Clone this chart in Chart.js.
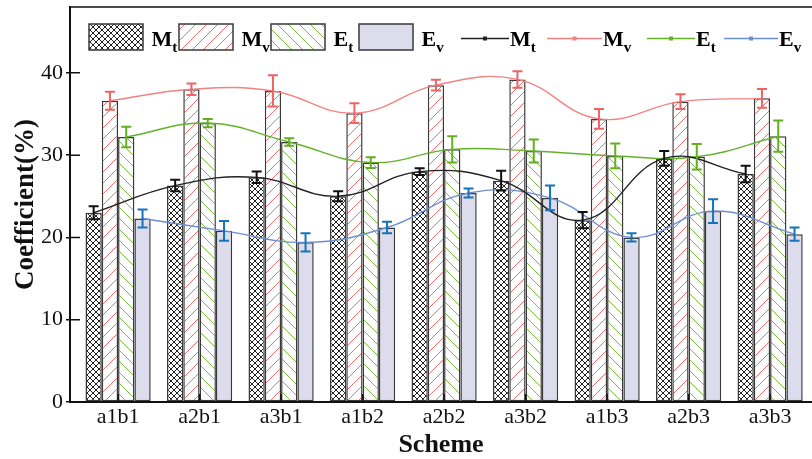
<!DOCTYPE html>
<html>
<head>
<meta charset="utf-8">
<title>Coefficient by scheme</title>
<script src="https://cdn.jsdelivr.net/npm/chart.js@4.4.1/dist/chart.umd.min.js"></script>
<style>
  html, body { margin: 0; padding: 0; background: #fff; overflow: hidden; }
  #chart { display: block; }
</style>
</head>
<body>
<canvas id="chart" width="812" height="459"></canvas>
<script>
// values
const schemes = ['a1b1', 'a2b1', 'a3b1', 'a1b2', 'a2b2', 'a3b2', 'a1b3', 'a2b3', 'a3b3'];
const mtValues = [23.0, 26.3, 27.3, 25.0, 28.0, 26.9, 22.1, 29.6, 27.7];
const mvValues = [36.6, 38.0, 37.8, 35.1, 38.5, 39.2, 34.4, 36.5, 36.9];
const etValues = [32.2, 33.9, 31.6, 29.1, 30.7, 30.5, 29.9, 29.8, 32.3];
const evValues = [22.3, 20.8, 19.4, 21.2, 25.4, 24.8, 20.0, 23.2, 20.4];
const mtErrors = [0.8, 0.7, 0.7, 0.6, 0.4, 1.2, 1.0, 0.9, 1.0];
const mvErrors = [1.1, 0.7, 1.9, 1.2, 0.65, 1.0, 1.2, 0.9, 1.15];
const etErrors = [1.25, 0.5, 0.45, 0.65, 1.6, 1.4, 1.5, 1.55, 1.9];
const evErrors = [1.1, 1.2, 1.1, 0.7, 0.55, 1.5, 0.5, 1.45, 0.8];
const yTicks = [0, 10, 20, 30, 40];

const SERIF = '"Liberation Serif", "Times New Roman", serif';
const CAT_PCT = 0.8;

function makePattern(kind, color) {
  const c = document.createElement('canvas');
  const s = kind === 'cross' ? 6 : 11;
  c.width = s; c.height = s;
  const g = c.getContext('2d');
  g.fillStyle = '#fff';
  g.fillRect(0, 0, s, s);
  g.strokeStyle = color;
  g.lineWidth = 1;
  g.beginPath();
  if (kind === 'cross' || kind === 'fwd') {
    g.moveTo(-1, s + 1); g.lineTo(s + 1, -1);
  }
  if (kind === 'cross' || kind === 'back') {
    g.moveTo(-1, -1); g.lineTo(s + 1, s + 1);
  }
  g.stroke();
  return g.createPattern(c, 'repeat');
}

const series = [
  { base: 'M', sub: 't', values: mtValues, errors: mtErrors,
    fill: makePattern('cross', '#222'), line: '#222', err: '#111' },
  { base: 'M', sub: 'v', values: mvValues, errors: mvErrors,
    fill: makePattern('fwd', 'rgb(240,110,110)'), line: 'rgb(242,130,130)', err: 'rgb(236,100,100)' },
  { base: 'E', sub: 't', values: etValues, errors: etErrors,
    fill: makePattern('back', 'rgb(120,190,60)'), line: 'rgb(100,178,40)', err: 'rgb(100,175,30)' },
  { base: 'E', sub: 'v', values: evValues, errors: evErrors,
    fill: '#dcdcec', line: 'rgb(110,142,212)', err: 'rgb(20,115,185)' }
];

// bar centre offset inside a group, in category units
const barOffset = k => (k - (series.length - 1) / 2) * CAT_PCT / series.length;

const barSets = series.map(s => ({
  type: 'bar',
  label: s.base + s.sub,
  data: s.values.map((v, i) => ({ x: i, y: v })),
  backgroundColor: s.fill,
  borderColor: '#3a3a3a',
  borderWidth: 1.5,
  borderSkipped: false,
  categoryPercentage: CAT_PCT,
  barPercentage: 1,
  order: 2
}));

const lineSets = series.map((s, k) => ({
  type: 'line',
  label: s.base + s.sub + ' line',
  data: s.values.map((v, i) => ({ x: i + barOffset(k), y: v })),
  borderColor: s.line,
  borderWidth: 1.4,
  tension: 0.42,
  pointRadius: 0,
  fill: false,
  order: 1
}));

const extras = {
  id: 'extras',
  afterDatasetsDraw(chart) {
    const ctx = chart.ctx;
    const yS = chart.scales.y;
    const xS = chart.scales.x;
    const area = chart.chartArea;
    ctx.save();
    // error bars
    series.forEach((s, k) => {
      const meta = chart.getDatasetMeta(lineSets.length + k);
      ctx.strokeStyle = s.err;
      ctx.lineWidth = 2;
      meta.data.forEach((bar, i) => {
        const hi = yS.getPixelForValue(s.values[i] + s.errors[i]);
        const lo = yS.getPixelForValue(s.values[i] - s.errors[i]);
        ctx.beginPath();
        ctx.moveTo(bar.x, hi); ctx.lineTo(bar.x, lo);
        ctx.moveTo(bar.x - 5, hi); ctx.lineTo(bar.x + 5, hi);
        ctx.moveTo(bar.x - 5, lo); ctx.lineTo(bar.x + 5, lo);
        ctx.stroke();
      });
    });
    // frame top line and inner ticks
    ctx.strokeStyle = '#111';
    ctx.lineWidth = 1.5;
    ctx.beginPath();
    ctx.moveTo(area.left, area.top); ctx.lineTo(chart.width, area.top);
    yTicks.forEach(t => {
      const y = yS.getPixelForValue(t);
      ctx.moveTo(area.left, y); ctx.lineTo(area.left + 10, y);
    });
    schemes.forEach((c, i) => {
      const x = xS.getPixelForValue(i);
      ctx.moveTo(x, area.bottom); ctx.lineTo(x, area.bottom - 8);
    });
    ctx.stroke();
    ctx.restore();
  },
  afterDraw(chart) {
    const ctx = chart.ctx;
    const boxX = [89, 179, 271, 359];
    const lineX = [461, 547, 647, 724];
    const lineEnd = [509, 602, 695, 778];
    const drawName = (s, x) => {
      ctx.fillStyle = '#000';
      ctx.textBaseline = 'alphabetic';
      ctx.textAlign = 'left';
      ctx.font = 'bold 22px ' + SERIF;
      ctx.fillText(s.base, x, 45.5);
      const w = ctx.measureText(s.base).width;
      ctx.font = 'bold 15px ' + SERIF;
      ctx.fillText(s.sub, x + w, 51.5);
    };
    ctx.save();
    series.forEach((s, k) => {
      ctx.fillStyle = s.fill;
      ctx.fillRect(boxX[k], 24, 54, 26);
      ctx.strokeStyle = '#3a3a3a';
      ctx.lineWidth = 1.5;
      ctx.strokeRect(boxX[k], 24, 54, 26);
      drawName(s, boxX[k] + 62.5);

      ctx.strokeStyle = s.line;
      ctx.lineWidth = 1.5;
      ctx.beginPath();
      ctx.moveTo(lineX[k], 38.5); ctx.lineTo(lineEnd[k], 38.5);
      ctx.stroke();
      ctx.fillStyle = s.line;
      const mid = (lineX[k] + lineEnd[k]) / 2;
      ctx.fillRect(mid - 2, 36.5, 4, 4);
      drawName(s, lineEnd[k] + 1);
    });
    ctx.restore();
  }
};

new Chart(document.getElementById('chart'), {
  data: { datasets: [...lineSets, ...barSets] },
  options: {
    responsive: false,
    animation: false,
    layout: { padding: { top: 7, right: 0, left: 0, bottom: 0 } },
    plugins: { legend: { display: false }, tooltip: { enabled: false } },
    scales: {
      x: {
        type: 'linear',
        offset: false,
        min: -0.59,
        max: 8.514,
        afterFit: s => { s.height = 57; s.paddingLeft = 0; s.paddingRight = 0; },
        afterBuildTicks: s => { s.ticks = schemes.map((c, i) => ({ value: i })); },
        ticks: {
          includeBounds: false,
          autoSkip: false,
          maxRotation: 0,
          padding: 2,
          color: '#111',
          font: { family: SERIF, size: 22 },
          callback: v => schemes[v]
        },
        grid: { display: false, drawTicks: false, offset: false },
        border: { display: true, color: '#111', width: 2 },
        title: {
          display: true,
          text: 'Scheme',
          color: '#111',
          font: { family: SERIF, size: 26, weight: 'bold', lineHeight: 1 },
          padding: { top: 1, bottom: 1 }
        }
      },
      y: {
        min: 0,
        max: 48,
        afterFit: s => { s.width = 70; s.paddingTop = 0; s.paddingBottom = 0; },
        afterBuildTicks: s => { s.ticks = yTicks.map(v => ({ value: v })); },
        ticks: {
          padding: 3,
          color: '#111',
          font: { family: SERIF, size: 22 }
        },
        grid: { drawOnChartArea: false, drawTicks: true, tickLength: 4, color: '#111', lineWidth: 1.5 },
        border: { display: true, color: '#111', width: 2 },
        title: {
          display: true,
          text: 'Coefficient(%)',
          color: '#111',
          font: { family: SERIF, size: 27, weight: 'bold', lineHeight: 1 },
          padding: { top: 13, bottom: 13 }
        }
      }
    }
  },
  plugins: [extras]
});
</script>
</body>
</html>
